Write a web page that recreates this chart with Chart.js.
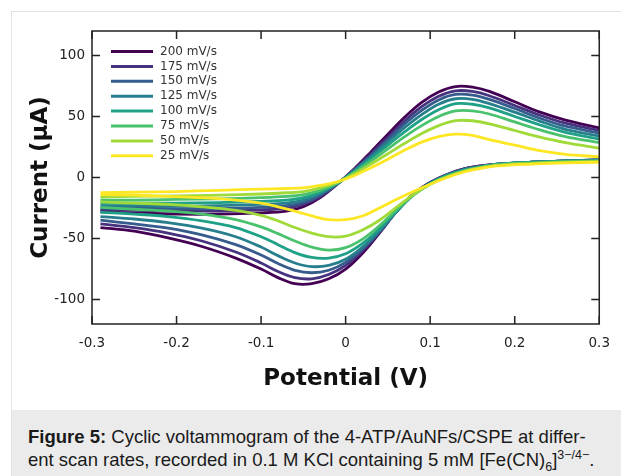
<!DOCTYPE html>
<html>
<head>
<meta charset="utf-8">
<script src="https://cdn.jsdelivr.net/npm/chart.js@4.4.1/dist/chart.umd.min.js"></script>
<style>
  body { margin: 0; background: #ffffff; width: 621px; height: 476px; overflow: hidden; position: relative; }
  #card { position: absolute; left: 11px; top: 11px; width: 620px; height: 470px; border-left: 1px solid #e2e2e2; border-top: 1px solid #e2e2e2; }
  #cv-chart { position: absolute; left: 12px; top: 12px; }
  .caption { position: absolute; left: 12px; top: 410px; width: 609px; height: 66px; background: #ebebeb; box-sizing: border-box;
    padding: 15px 0 0 16px; font-family: "Liberation Sans", Arial, sans-serif; font-size: 18.5px; line-height: 23px; color: #1a1a1a; white-space: nowrap; }
  .caption sub, .caption sup { font-size: 12.5px; line-height: 0; }
</style>
</head>
<body>
<div id="card"></div>
<canvas id="cv-chart" width="609" height="398"></canvas>
<div class="caption"><b>Figure 5:</b> Cyclic voltammogram of the 4-ATP/AuNFs/CSPE at differ-<br>ent scan rates, recorded in 0.1 M KCl containing 5 mM [Fe(CN)<sub>6</sub>]<sup>3−/4−</sup>.</div>

<script>
// Scan rates (legend) and viridis colours
const scanRates = ["200 mV/s", "175 mV/s", "150 mV/s", "125 mV/s", "100 mV/s", "75 mV/s", "50 mV/s", "25 mV/s"];
const colours = ["#440154", "#46327e", "#365c8d", "#277f8e", "#1fa187", "#4ac16d", "#a0da39", "#fde725"];

// Potentials (V) of the forward (anodic) scan and of the reverse (cathodic) scan
const forwardPotential = [-0.29, -0.25, -0.2, -0.15, -0.1, -0.07, -0.05, -0.03, -0.01, 0.01, 0.03, 0.05, 0.07, 0.09, 0.11, 0.13, 0.15, 0.17, 0.2, 0.23, 0.26, 0.3];
const reversePotential = [0.3, 0.26, 0.22, 0.18, 0.16, 0.14, 0.12, 0.1, 0.08, 0.06, 0.04, 0.02, 0, -0.02, -0.04, -0.06, -0.08, -0.1, -0.13, -0.17, -0.21, -0.25, -0.29];

// Current (µA) of the forward scan, one array per scan rate
const forward200 = [-28, -29, -30, -30, -29, -27.5, -24, -16.5, -5.5, 7, 21, 35.5, 49.5, 61.5, 70, 74.5, 74, 70.5, 62, 53.5, 47, 40.5];
const forward175 = [-26.5, -27, -27.5, -27.5, -26.5, -25, -22, -15.5, -5.5, 6.5, 19.5, 33, 46.5, 58, 66.5, 71, 70.5, 67, 59, 51, 44.5, 38.5];
const forward150 = [-25, -25, -25.5, -25.5, -24.5, -23, -20.5, -14.5, -5.5, 6, 18, 31, 44, 55, 63.5, 68, 67.5, 64, 56.5, 48.5, 42, 36.5];
const forward125 = [-23, -23, -23.5, -23, -22, -21, -18.5, -13, -5, 5.5, 17, 29, 41, 51.5, 60, 64.5, 64, 60.5, 53.5, 46, 39.5, 34];
const forward100 = [-21, -21, -21, -20.5, -19.5, -18.5, -16.5, -12, -5, 5, 15.5, 26.5, 37.5, 47.5, 55.5, 60.5, 60, 57, 50, 43, 37, 31.5];
const forward75 = [-18.5, -18.5, -18, -17.5, -16.5, -15.5, -14, -10.5, -4.5, 4, 13.5, 23.5, 33.5, 42.5, 50, 54.5, 54.5, 52, 45.5, 39, 33.5, 28.5];
const forward50 = [-16, -15.5, -15, -14.5, -13.5, -12.5, -11.5, -8.5, -4, 3, 11, 19.5, 28, 36, 42.5, 46.5, 46.5, 44, 38.5, 33, 28.5, 24];
const forward25 = [-12.5, -12, -11.5, -10.5, -9.5, -9, -8.5, -6.5, -3.5, 1.5, 8, 15, 22.5, 29, 33.5, 35.5, 34.5, 31, 26.5, 22, 19, 17];

// Current (µA) of the reverse scan, one array per scan rate
const reverse200 = [14.5, 13.5, 12.5, 11, 9.5, 7, 2.5, -4, -13.5, -28, -45.5, -62, -75, -83, -87, -87, -82, -75, -66, -56.5, -49.5, -44, -41];
const reverse175 = [14.5, 13.5, 12.5, 11, 9.5, 7, 2.5, -4, -13.5, -28, -45, -60, -72, -79.5, -83, -82, -77, -70, -61, -52, -45.5, -41, -38];
const reverse150 = [14.5, 13.5, 12.5, 11, 9, 6.5, 2, -4.5, -14, -28, -44.5, -58.5, -69.5, -76, -78, -76, -70.5, -63.5, -55, -47, -41.5, -38, -35];
const reverse125 = [14, 13.5, 12.5, 11, 9, 6.5, 2, -4.5, -14, -28, -43.5, -57, -67, -72, -73, -70, -64, -57, -48.5, -41.5, -37, -34, -32];
const reverse100 = [14, 13.5, 12.5, 11, 8.5, 6, 1.5, -5, -14.5, -27.5, -42, -54, -62.5, -66, -65.5, -61.5, -55, -48.5, -41, -35.5, -32, -30, -28.5];
const reverse75 = [13.5, 13, 12, 10.5, 8.5, 5.5, 1, -5.5, -14.5, -26.5, -39.5, -50.5, -57.5, -59.5, -57, -52, -46, -40.5, -34.5, -30, -27.5, -26, -24.5];
const reverse50 = [13, 12.5, 11.5, 10, 8, 5, 0.5, -5.5, -14, -24.5, -35, -43, -48, -48.5, -45.5, -41, -35.5, -31, -27, -24, -22, -21, -20];
const reverse25 = [12.5, 12, 11, 9.5, 7.5, 4.5, 0, -5.5, -11.5, -18, -25, -31.5, -34.5, -34.5, -31.5, -27.5, -24, -21, -18.5, -16.5, -15.5, -14.5, -14];

const forwardCurrents = [forward200, forward175, forward150, forward125, forward100, forward75, forward50, forward25];
const reverseCurrents = [reverse200, reverse175, reverse150, reverse125, reverse100, reverse75, reverse50, reverse25];

// Axis ticks
const xTicks = [-0.3, -0.2, -0.1, 0, 0.1, 0.2, 0.3];
const yTicks = [-100, -50, 0, 50, 100];

// Build one dataset per scan rate: forward points, a gap, then reverse points
function buildDatasets() {
  let result = [];
  for (let i = 0; i < scanRates.length; i++) {
    let points = [];
    for (let j = 0; j < forwardPotential.length; j++) {
      points.push({ x: forwardPotential[j], y: forwardCurrents[i][j] });
    }
    points.push({ x: 0.3, y: null });
    for (let j = 0; j < reversePotential.length; j++) {
      points.push({ x: reversePotential[j], y: reverseCurrents[i][j] });
    }
    result.push({
      label: scanRates[i],
      data: points,
      borderColor: colours[i],
      backgroundColor: colours[i],
      borderWidth: 2.8,
      pointRadius: 0,
      showLine: true,
      tension: 0.35,
      order: scanRates.length - i,
    });
  }
  return result;
}

// Frame round the plot with inward ticks on all four sides
const frameTicks = {
  id: "frameTicks",
  afterDraw(chart) {
    const ctx = chart.ctx;
    const area = chart.chartArea;
    const xs = chart.scales.x;
    const ys = chart.scales.y;
    ctx.save();
    ctx.strokeStyle = "#222222";
    ctx.lineWidth = 1.5;
    ctx.strokeRect(area.left, area.top, area.right - area.left, area.bottom - area.top);
    ctx.beginPath();
    xTicks.forEach((v) => {
      const px = xs.getPixelForValue(v);
      ctx.moveTo(px, area.bottom);
      ctx.lineTo(px, area.bottom - 8);
      ctx.moveTo(px, area.top);
      ctx.lineTo(px, area.top + 8);
    });
    yTicks.forEach((v) => {
      const py = ys.getPixelForValue(v);
      ctx.moveTo(area.left, py);
      ctx.lineTo(area.left + 8, py);
      ctx.moveTo(area.right, py);
      ctx.lineTo(area.right - 8, py);
    });
    ctx.stroke();
    ctx.restore();
  },
};

// Legend drawn inside the plot, top left
const insideLegend = {
  id: "insideLegend",
  afterDatasetsDraw(chart) {
    const ctx = chart.ctx;
    const area = chart.chartArea;
    ctx.save();
    ctx.font = "12px 'DejaVu Sans'";
    ctx.textBaseline = "middle";
    chart.data.datasets.forEach((ds, i) => {
      const y = area.top + 20.5 + i * 14.9;
      ctx.strokeStyle = ds.borderColor;
      ctx.lineWidth = 3;
      ctx.beginPath();
      ctx.moveTo(area.left + 19, y);
      ctx.lineTo(area.left + 61, y);
      ctx.stroke();
      ctx.fillStyle = "#333333";
      ctx.fillText(ds.label, area.left + 68, y);
    });
    ctx.restore();
  },
};

const myChart = new Chart(document.getElementById("cv-chart"), {
  type: "scatter",
  data: { datasets: buildDatasets() },
  options: {
    responsive: false,
    animation: false,
    devicePixelRatio: 1,
    layout: { padding: { left: 0, top: 19, right: 21, bottom: 0 } },
    plugins: { legend: { display: false }, tooltip: { enabled: false } },
    scales: {
      x: {
        type: "linear",
        min: -0.3,
        max: 0.3,
        afterBuildTicks: (scale) => { scale.ticks = xTicks.map((v) => ({ value: v })); },
        afterFit: (scale) => { scale.height = 86; },
        grid: { display: false, drawTicks: false },
        border: { display: false },
        ticks: {
          padding: 11,
          color: "#222222",
          font: { family: "DejaVu Sans", size: 13.5 },
          callback: (v) => (v === 0 ? "0" : v.toFixed(1)),
        },
        title: {
          display: true,
          text: "Potential (V)",
          color: "#111111",
          font: { family: "DejaVu Sans", size: 23, weight: "bold" },
          padding: { top: 0, bottom: 17 },
        },
      },
      y: {
        type: "linear",
        min: -120,
        max: 120,
        afterBuildTicks: (scale) => { scale.ticks = yTicks.map((v) => ({ value: v })); },
        afterFit: (scale) => { scale.width = 80; },
        grid: { display: false, drawTicks: false },
        border: { display: false },
        ticks: {
          padding: 7,
          color: "#222222",
          font: { family: "DejaVu Sans", size: 13.5 },
          callback: (v) => String(v),
        },
        title: {
          display: true,
          text: "Current (µA)",
          color: "#111111",
          font: { family: "DejaVu Sans", size: 23, weight: "bold" },
          padding: { top: 15, bottom: 0 },
        },
      },
    },
  },
  plugins: [frameTicks, insideLegend],
});
</script>
</body>
</html>
